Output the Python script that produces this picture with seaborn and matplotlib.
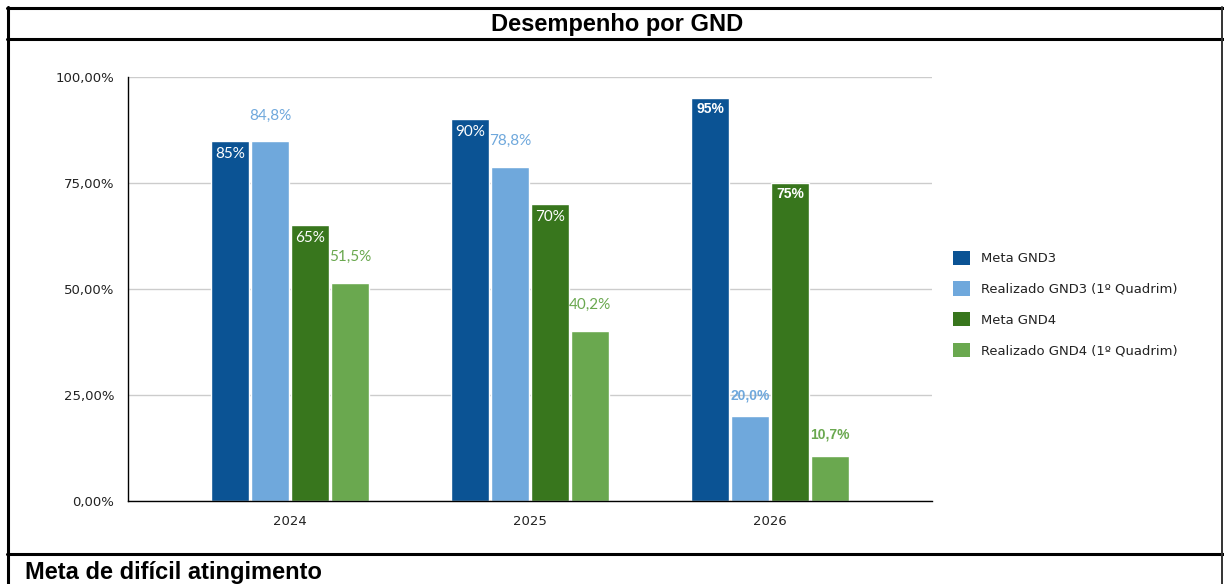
import matplotlib
matplotlib.use("Agg")
import matplotlib.pyplot as plt
from matplotlib.lines import Line2D
from matplotlib.ticker import FuncFormatter
import seaborn as sns
import pandas as pd

# Data
years = ["2024", "2025", "2026"]
series = ["Meta GND3", "Realizado GND3 (1º Quadrim)", "Meta GND4", "Realizado GND4 (1º Quadrim)"]
meta_gnd3 = [85, 90, 95]
real_gnd3 = [84.8, 78.8, 20.0]
meta_gnd4 = [65, 70, 75]
real_gnd4 = [51.5, 40.2, 10.7]
colors = ["#0b5394", "#6fa8dc", "#38761d", "#6aa84f"]

values = [meta_gnd3, real_gnd3, meta_gnd4, real_gnd4]
df = pd.DataFrame(
    [(y, s, v) for s, vals in zip(series, values) for y, v in zip(years, vals)],
    columns=["Ano", "Serie", "Valor"],
)

sns.set_style("white")
plt.rcParams["font.family"] = ["DejaVu Sans"]

W, H = 1224, 584
fig = plt.figure(figsize=(W / 100, H / 100), dpi=100)
fig.patch.set_facecolor("white")

# Plot area in pixel coordinates
x0, x1, ytop, ybot = 128, 932, 77, 501
ax = fig.add_axes([x0 / W, 1 - ybot / H, (x1 - x0) / W, (ybot - ytop) / H])

sns.barplot(
    data=df, x="Ano", y="Valor", hue="Serie", hue_order=series,
    order=years, palette=colors, width=0.667, gap=0.05,
    saturation=1, ax=ax, legend=True,
)

ax.set_ylim(0, 100)
ax.set_xlim(-0.675, 2.675)
ax.set_yticks([0, 25, 50, 75, 100])
ax.yaxis.set_major_formatter(FuncFormatter(lambda v, _: f"{v:.2f}%".replace(".", ",")))
ax.set_xlabel("")
ax.set_ylabel("")
ax.grid(axis="y", color="#cccccc", linewidth=1)
ax.grid(axis="x", visible=False)
ax.set_axisbelow(True)
for side in ["top", "right"]:
    ax.spines[side].set_visible(False)
for side in ["left", "bottom"]:
    ax.spines[side].set_color("black")
    ax.spines[side].set_linewidth(1)
ax.tick_params(axis="y", length=5.8, width=1, color="black", labelsize=9.5,
               labelcolor="#222222", pad=4)
ax.tick_params(axis="x", length=0, labelsize=9.5, labelcolor="#222222", pad=10)

# Value labels
for si, (cont, vals) in enumerate(zip(ax.containers, values)):
    for yi, (bar, v) in enumerate(zip(cont, vals)):
        cx = bar.get_x() + bar.get_width() / 2
        h = bar.get_height()
        bold = yi == 2
        if bold:
            size, weight, fam = 10, "bold", "Liberation Sans"
        else:
            size, weight, fam = 11, "normal", "Lato"
        if si % 2 == 0:
            txt = f"{v:.0f}%"
            off = -8 if bold else -9.4
            ax.annotate(txt, (cx, h), xytext=(0, off), textcoords="offset points",
                        ha="center", va="center", color="white", fontsize=size,
                        fontweight=weight, family=fam)
        else:
            txt = f"{v:.1f}%".replace(".", ",")
            off = 15 if bold else 18.5
            ax.annotate(txt, (cx, h), xytext=(0, off), textcoords="offset points",
                        ha="center", va="center", color=colors[si], fontsize=size,
                        fontweight=weight, family=fam)

# Legend
handles = [plt.Rectangle((0, 0), 1, 1, facecolor=c, edgecolor="none") for c in colors]
ax.legend(handles, series, loc="center left",
          bbox_to_anchor=(953 / W, 1 - 304 / H), bbox_transform=fig.transFigure,
          frameon=False, borderpad=0, borderaxespad=0, fontsize=9.45,
          handlelength=1.3, handleheight=1.3, handletextpad=0.84,
          labelspacing=1.23, labelcolor="#222222")

# Table-like frame around the chart
def hline(y, xa, xb, lw):
    fig.add_artist(Line2D([xa / W, xb / W], [1 - y / H, 1 - y / H], color="black",
                          linewidth=lw, transform=fig.transFigure))

def vline(x, ya, yb, lw, color="black"):
    fig.add_artist(Line2D([x / W, x / W], [1 - ya / H, 1 - yb / H], color=color,
                          linewidth=lw, transform=fig.transFigure))

hline(7.5, 6.5, 1224, 2.2)
hline(39, 6.5, 1224, 2.2)
hline(554, 6.5, 1224, 2.2)
vline(8, 6.5, 584, 2.2)
vline(1222, 6.5, 584, 1.4, "#333333")

fig.text(617 / W, 1 - 24 / H, "Desempenho por GND", ha="center", va="center",
         fontsize=17, fontweight="bold", family="Liberation Sans", color="black")
fig.text(25 / W, 1 - 572 / H, "Meta de difícil atingimento", ha="left", va="center",
         fontsize=17, fontweight="bold", family="Liberation Sans", color="black")

fig.savefig("out.png", dpi=100, facecolor="white")
